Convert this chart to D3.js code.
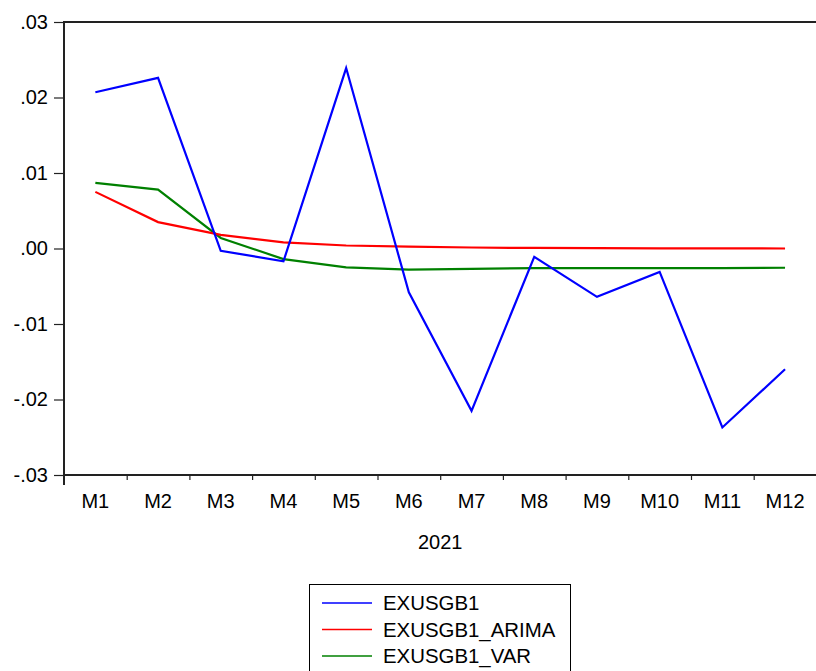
<!DOCTYPE html>
<html>
<head>
<meta charset="utf-8">
<script src="https://cdn.jsdelivr.net/npm/d3@7"></script>
<style>
  body { margin: 0; background: #fff; }
  text { font-family: "Liberation Sans", Arial, sans-serif; }
</style>
</head>
<body>
<div id="chart"></div>
<script>
// data
const months = ['M1', 'M2', 'M3', 'M4', 'M5', 'M6', 'M7', 'M8', 'M9', 'M10', 'M11', 'M12']
const exusgb1 = [0.0207, 0.0226, -0.0003, -0.0017, 0.0239, -0.0058, -0.0215, -0.0011, -0.0064, -0.0031, -0.0237, -0.0160]
const exusgb1Arima = [0.0075, 0.0035, 0.0018, 0.0008, 0.0004, 0.00025, 0.00013, 0.00007, 0.00004, 0.00002, 0.00001, 0.0]
const exusgb1Var = [0.0087, 0.0078, 0.0014, -0.0014, -0.0025, -0.0028, -0.0027, -0.0026, -0.0026, -0.0026, -0.0026, -0.00255]
const yTicks = [-0.03, -0.02, -0.01, 0.00, 0.01, 0.02, 0.03]
const xTitle = '2021'
const seriesNames = ['EXUSGB1', 'EXUSGB1_ARIMA', 'EXUSGB1_VAR']
const colorArr = ['#0000ff', '#ff0000', '#008000']

const svgW = 816
const svgH = 671
const plotLeft = 64
const plotRight = 816.4
const plotTop = 22
const plotBottom = 475

const svg = d3.select('#chart').append('svg').attr('width', svgW).attr('height', svgH)

// x: index scale, month i sits in the middle of slot [i, i+1]
const xlinear = d3.scaleLinear().domain([0, months.length]).range([plotLeft, plotRight])
const ylinear = d3.scaleLinear().domain([-0.03, 0.03]).range([plotBottom, plotTop])

// EViews style: ".01", "-.02" with a plain hyphen
const fmt = d => d3.format('.2f')(d).replace('\u2212', '-').replace('0.', '.')

// y axis
const yAxis = d3.axisLeft(ylinear).tickValues(yTicks).tickSize(10).tickPadding(6).tickFormat(fmt)
const yg = svg.append('g').attr('transform', 'translate(' + plotLeft + ',0)').call(yAxis)
yg.select('.domain').remove()
yg.selectAll('line').attr('stroke', '#222').attr('stroke-width', 1.2)
yg.selectAll('text').attr('font-size', 20).attr('fill', '#000')
  .attr('font-family', '"Liberation Sans", Arial, sans-serif')

// boundary ticks on x
const xAxis = d3.axisBottom(xlinear).tickValues(d3.range(1, months.length)).tickSize(5).tickFormat('')
const xg = svg.append('g').attr('transform', 'translate(0,' + plotBottom + ')').call(xAxis)
xg.select('.domain').remove()
xg.selectAll('line').attr('stroke', '#222').attr('stroke-width', 1.2)

// month labels
svg.append('g').selectAll('text').data(months).enter().append('text')
  .attr('x', (d, i) => xlinear(i + 0.5))
  .attr('y', 508)
  .attr('text-anchor', 'middle')
  .attr('font-size', 20)
  .text(d => d)

svg.append('text').attr('x', (plotLeft + plotRight) / 2).attr('y', 549)
  .attr('text-anchor', 'middle').attr('font-size', 20).text(xTitle)

// frame: left, top, bottom
svg.append('line').attr('x1', plotLeft).attr('x2', plotLeft).attr('y1', plotTop - 1).attr('y2', plotBottom + 10)
  .attr('stroke', '#222').attr('stroke-width', 2)
svg.append('line').attr('x1', plotLeft).attr('x2', svgW).attr('y1', plotTop).attr('y2', plotTop)
  .attr('stroke', '#222').attr('stroke-width', 2)
svg.append('line').attr('x1', plotLeft).attr('x2', svgW).attr('y1', plotBottom).attr('y2', plotBottom)
  .attr('stroke', '#222').attr('stroke-width', 2)

// series
const line = d3.line().x((d, i) => xlinear(i + 0.5)).y(d => ylinear(d))
const allSeries = [exusgb1, exusgb1Arima, exusgb1Var]
// draw in reverse so blue ends on top
allSeries.slice().reverse().forEach((s, k) => {
  const idx = allSeries.length - 1 - k
  svg.append('path').datum(s).attr('d', line)
    .attr('fill', 'none').attr('stroke', colorArr[idx]).attr('stroke-width', 2.2)
    .attr('stroke-linejoin', 'miter')
})

// legend
const lg = svg.append('g')
lg.append('rect').attr('x', 309.5).attr('y', 584.5).attr('width', 261).attr('height', 100)
  .attr('fill', '#fff').attr('stroke', '#000').attr('stroke-width', 1)
seriesNames.forEach((name, i) => {
  const cy = 603 + i * 26.5
  lg.append('line').attr('x1', 322).attr('x2', 372).attr('y1', cy).attr('y2', cy)
    .attr('stroke', colorArr[i]).attr('stroke-width', 1.5)
  lg.append('text').attr('x', 383).attr('y', cy + 7).attr('font-size', 20.4).text(name)
})
</script>
</body>
</html>
